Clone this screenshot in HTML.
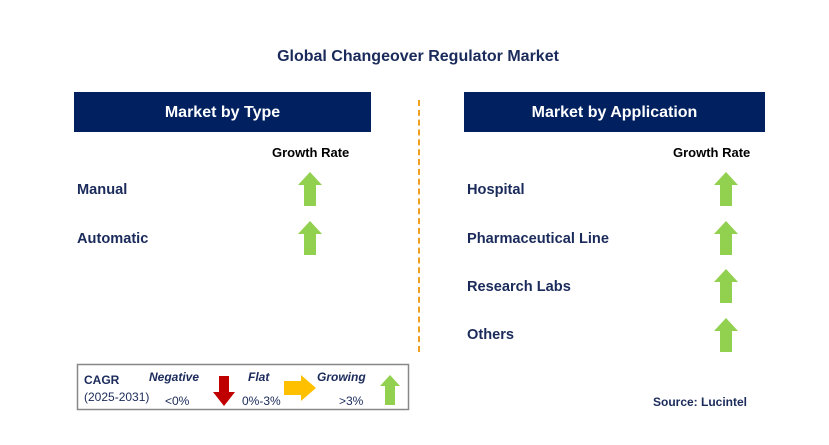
<!DOCTYPE html><html><head><style>
body{margin:0;width:829px;height:445px;background:#fff;position:relative;font-family:"Liberation Sans",Arial,sans-serif;overflow:hidden}
.a{position:absolute}
.t{font-weight:bold;color:#1a2a5a;font-size:14.6px}
.h{background:#002060;color:#fff;font-weight:bold;font-size:16px;text-align:center;line-height:41px;height:40px}
.g{font-weight:bold;font-size:13px;color:#000}
</style></head><body>
<div class="a" style="left:0;width:836px;top:48px;text-align:center;font-weight:bold;font-size:16px;color:#1a2a5a">Global Changeover Regulator Market</div>
<div class="a h" style="left:74px;top:92px;width:297px">Market by Type</div>
<div class="a h" style="left:464px;top:92px;width:301px">Market by Application</div>
<div class="a" style="left:418px;top:100px;height:252px;border-left:2px dashed #f0a020"></div>
<div class="a g" style="left:272px;top:145px">Growth Rate</div>
<div class="a g" style="left:673px;top:145px">Growth Rate</div>
<div class="a t" style="left:77px;top:182px">Manual</div>
<div class="a t" style="left:77px;top:231px">Automatic</div>
<div class="a t" style="left:467px;top:182px">Hospital</div>
<div class="a t" style="left:467px;top:231px">Pharmaceutical Line</div>
<div class="a t" style="left:467px;top:279px">Research Labs</div>
<div class="a t" style="left:467px;top:327px">Others</div>
<svg class="a" style="left:0;top:0" width="829" height="445">
<defs><polygon id="u" points="12,0 24,13 18,13 18,34 6,34 6,13 0,13" fill="#92D050"/></defs>
<use href="#u" x="298" y="172"/><use href="#u" x="298" y="221"/>
<use href="#u" x="714" y="172"/><use href="#u" x="714" y="221"/><use href="#u" x="714" y="269"/><use href="#u" x="714" y="318"/>
<rect x="77.5" y="364.5" width="331" height="45" fill="none" stroke="#888" stroke-width="1.5"/>
<polygon points="219,376 229,376 229,392 235,392 224,406 213,392 219,392" fill="#C00000"/>
<polygon points="284,381 301,381 301,375 316,388 301,401 301,395 284,395" fill="#FFC000"/>
<polygon points="390,375 400,386 395,386 395,405 385,405 385,386 380,386" fill="#92D050"/>
</svg>
<div class="a" style="left:84px;top:373px;font-weight:bold;font-size:12px;color:#1a2a5a">CAGR</div>
<div class="a" style="left:84px;top:390px;font-size:12px;color:#1a2a5a">(2025-2031)</div>
<div class="a" style="left:149px;top:370px;font-weight:bold;font-style:italic;font-size:12px;color:#1a2a5a">Negative</div>
<div class="a" style="left:165px;top:394px;font-size:12px;color:#1a2a5a">&lt;0%</div>
<div class="a" style="left:248px;top:370px;font-weight:bold;font-style:italic;font-size:12px;color:#1a2a5a">Flat</div>
<div class="a" style="left:242px;top:394px;font-size:12px;color:#1a2a5a">0%-3%</div>
<div class="a" style="left:317px;top:370px;font-weight:bold;font-style:italic;font-size:12px;color:#1a2a5a">Growing</div>
<div class="a" style="left:339px;top:394px;font-size:12px;color:#1a2a5a">&gt;3%</div>
<div class="a" style="left:653px;top:395px;font-weight:bold;font-size:12px;color:#1a2a5a">Source: Lucintel</div>
</body></html>
